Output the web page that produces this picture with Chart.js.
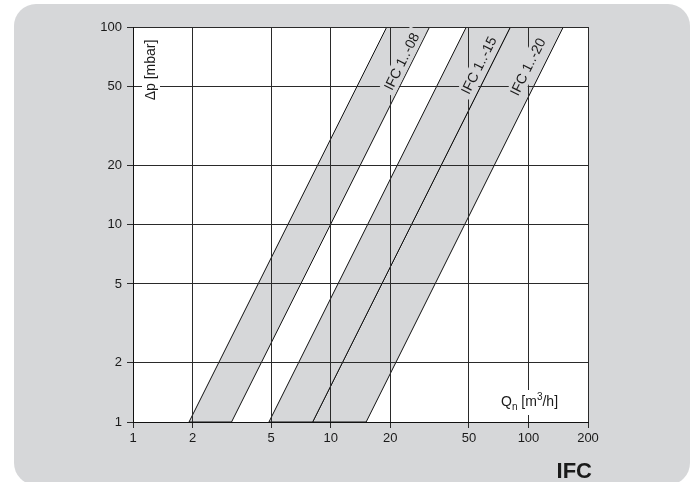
<!DOCTYPE html>
<html>
<head>
<meta charset="utf-8">
<script src="https://cdn.jsdelivr.net/npm/chart.js@4.4.1/dist/chart.umd.min.js"></script>
<style>
  html, body { margin: 0; padding: 0; background: #fff; }
  canvas { display: block; }
</style>
</head>
<body>
<canvas id="chart" width="694" height="482"></canvas>
<script>
  var xTicks = [1, 2, 5, 10, 20, 50, 100, 200];
  var yTicks = [1, 2, 5, 10, 20, 50, 100];

  var bandNames = ["IFC 1..-08", "IFC 1..-15", "IFC 1..-20"];
  // Qn [m3/h] of the band edges at dp = 1 mbar (bottom) and dp = 100 mbar (top)
  var dpBottom = 1;
  var dpTop = 100;
  var qLeftBottom  = [1.92, 4.87, 8.1];
  var qRightBottom = [3.15, 8.1, 15.1];
  var qLeftTop     = [19.2, 48.5, 81];
  var qRightTop    = [31.6, 81, 150];
  // where the band names sit (Qn, dp)
  var labelQ  = [22.8, 56, 99];
  var labelDp = [67, 64, 63];

  var panelColor = "#d6d7d9";
  var bandColor = "#d6d7d9";
  var fontName = "'Liberation Sans', Arial, sans-serif";

  var datasets = [];
  for (var i = 0; i < bandNames.length; i++) {
    datasets.push({
      label: bandNames[i],
      data: [
        {x: qLeftBottom[i], y: dpBottom},
        {x: qLeftTop[i], y: dpTop},
        {x: qRightTop[i], y: dpTop},
        {x: qRightBottom[i], y: dpBottom},
        {x: qLeftBottom[i], y: dpBottom}
      ],
      showLine: true,
      fill: 'shape',
      backgroundColor: bandColor,
      borderColor: "#111",
      borderWidth: 1,
      pointRadius: 0,
      tension: 0
    });
  }

  function roundRect(ctx, x, y, w, h, r) {
    ctx.beginPath();
    ctx.moveTo(x + r, y);
    ctx.lineTo(x + w - r, y);
    ctx.arcTo(x + w, y, x + w, y + r, r);
    ctx.lineTo(x + w, y + h - r);
    ctx.arcTo(x + w, y + h, x + w - r, y + h, r);
    ctx.lineTo(x + r, y + h);
    ctx.arcTo(x, y + h, x, y + h - r, r);
    ctx.lineTo(x, y + r);
    ctx.arcTo(x, y, x + r, y, r);
    ctx.closePath();
  }

  var overlay = {
    id: 'overlay',
    beforeDraw: function(chart) {
      var ctx = chart.ctx, a = chart.chartArea;
      ctx.save();
      ctx.fillStyle = "#fff";
      ctx.fillRect(0, 0, chart.width, chart.height);
      roundRect(ctx, 14, 4, 676, 481, 22);
      ctx.fillStyle = panelColor;
      ctx.fill();
      ctx.fillStyle = "#fff";
      ctx.fillRect(a.left, a.top, a.right - a.left, a.bottom - a.top);
      ctx.restore();
    },
    afterDraw: function(chart) {
      var ctx = chart.ctx, a = chart.chartArea;
      var xs = chart.scales.x, ys = chart.scales.y;
      ctx.save();
      ctx.fillStyle = "#1a1a1a";
      ctx.textAlign = "center";
      ctx.textBaseline = "middle";

      // band names, turned along the band edges
      ctx.font = "14px " + fontName;
      for (var i = 0; i < bandNames.length; i++) {
        var x1 = xs.getPixelForValue(qLeftBottom[i]), y1 = ys.getPixelForValue(dpBottom);
        var x2 = xs.getPixelForValue(qLeftTop[i]), y2 = ys.getPixelForValue(dpTop);
        var ang = Math.atan2(y2 - y1, x2 - x1);
        var cx = xs.getPixelForValue(labelQ[i]), cy = ys.getPixelForValue(labelDp[i]);
        var w = ctx.measureText(bandNames[i]).width;
        ctx.save();
        ctx.translate(cx, cy);
        ctx.rotate(ang);
        ctx.fillStyle = bandColor;
        ctx.fillRect(-w / 2 - 4, -8, w + 8, 17);
        ctx.fillStyle = "#1a1a1a";
        ctx.fillText(bandNames[i], 0, 1);
        ctx.restore();
      }

      // y axis title
      ctx.font = "14px " + fontName;
      ctx.save();
      ctx.translate(a.left + 18, a.top + 43);
      ctx.rotate(-Math.PI / 2);
      var yt = "Δp [mbar]";
      var yw = ctx.measureText(yt).width;
      ctx.fillStyle = "#fff";
      ctx.fillRect(-yw / 2 - 3, -9, yw + 6, 18);
      ctx.fillStyle = "#1a1a1a";
      ctx.fillText(yt, 0, 0);
      ctx.restore();

      // x axis title Qn [m3/h]
      var bx = a.right - 87, by = a.bottom - 16;
      ctx.fillStyle = "#fff";
      ctx.fillRect(bx - 3, by - 16, 69, 25);
      ctx.fillStyle = "#1a1a1a";
      ctx.textAlign = "left";
      ctx.textBaseline = "alphabetic";
      ctx.font = "14px " + fontName;
      ctx.fillText("Q", bx, by);
      var px = bx + ctx.measureText("Q").width;
      ctx.font = "10px " + fontName;
      ctx.fillText("n", px, by + 4);
      px += ctx.measureText("n").width;
      ctx.font = "14px " + fontName;
      ctx.fillText(" [m", px, by);
      px += ctx.measureText(" [m").width;
      ctx.font = "10px " + fontName;
      ctx.fillText("3", px, by - 6);
      px += ctx.measureText("3").width;
      ctx.font = "14px " + fontName;
      ctx.fillText("/h]", px, by);

      // product name
      ctx.font = "bold 22px " + fontName;
      ctx.textAlign = "right";
      ctx.fillText("IFC", 592, 478);
      ctx.restore();
    }
  };

  Chart.defaults.font.family = fontName;
  Chart.defaults.font.size = 13;
  Chart.defaults.color = "#1a1a1a";

  var chart = new Chart(document.getElementById("chart").getContext("2d"), {
    type: 'scatter',
    data: { datasets: datasets },
    options: {
      responsive: false,
      animation: false,
      devicePixelRatio: 1,
      layout: { padding: { top: 27, right: 106, bottom: 0, left: 0 } },
      plugins: {
        legend: { display: false },
        tooltip: { enabled: false }
      },
      scales: {
        x: {
          type: 'logarithmic',
          min: 1,
          max: 200,
          afterBuildTicks: function(s) { s.ticks = xTicks.map(function(v) { return {value: v}; }); },
          afterFit: function(s) { s.height = 60; },
          grid: { color: "#2a2a2a", lineWidth: 1, tickLength: 6, z: 1 },
          border: { color: "#111", width: 1, z: 2 },
          ticks: {
            autoSkip: false, maxRotation: 0, padding: 3,
            callback: function(v) { return String(v); }
          }
        },
        y: {
          type: 'logarithmic',
          min: 1,
          max: 100,
          afterBuildTicks: function(s) { s.ticks = yTicks.map(function(v) { return {value: v}; }); },
          afterFit: function(s) { s.width = 133; },
          grid: { color: "#2a2a2a", lineWidth: 1, tickLength: 6, z: 1 },
          border: { color: "#111", width: 1, z: 2 },
          ticks: {
            autoSkip: false, padding: 5,
            callback: function(v) { return String(v); }
          }
        }
      }
    },
    plugins: [overlay]
  });
</script>
</body>
</html>
